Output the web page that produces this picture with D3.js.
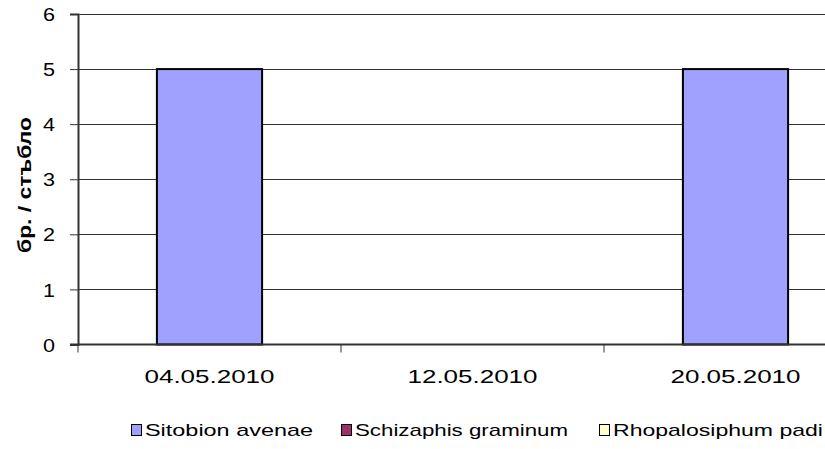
<!DOCTYPE html>
<html>
<head>
<meta charset="utf-8">
<script src="https://cdn.jsdelivr.net/npm/d3@7"></script>
<style>
  body { margin: 0; background: #fff; }
  svg { display: block; font-family: "Liberation Sans", Arial, sans-serif; }
</style>
</head>
<body>
<div id="chart"></div>
<script>
// Chart data
const dates = ["04.05.2010", "12.05.2010", "20.05.2010"];
const seriesNames = ["Sitobion avenae", "Schizaphis graminum", "Rhopalosiphum padi"];
const seriesColors = ["#a0a0ff", "#993366", "#ffffcc"];
const sitobion = [5, 0, 5];
const schizaphis = [0, 0, 0];
const rhopalosiphum = [0, 0, 0];
const yTicks = [0, 1, 2, 3, 4, 5, 6];

const width = 825;
const height = 449;
const plot = { left: 78, top: 14, bottom: 344.5, right: 867 };

const svg = d3.select('#chart')
    .append('svg')
    .attr('width', width)
    .attr('height', height);

// Scales (stacked columns, 150% gap width)
const xScale = d3.scaleBand()
    .domain(dates)
    .range([plot.left, plot.right])
    .paddingInner(0.6)
    .paddingOuter(0.3);

const yScale = d3.scaleLinear()
    .domain([0, 6])
    .range([plot.bottom, plot.top]);

// Gridlines
svg.append('g')
    .selectAll('line')
    .data(yTicks.filter(d => d > 0))
    .enter()
    .append('line')
    .attr('x1', plot.left)
    .attr('x2', width)
    .attr('y1', d => Math.round(yScale(d)) + 0.5)
    .attr('y2', d => Math.round(yScale(d)) + 0.5)
    .style('stroke', '#333')
    .style('stroke-width', 1);

// Stack the series
const table = dates.map((d, i) => ({
    date: d,
    s0: sitobion[i],
    s1: schizaphis[i],
    s2: rhopalosiphum[i]
}));
const stacked = d3.stack().keys(['s0', 's1', 's2'])(table);

stacked.forEach((layer, k) => {
    svg.append('g')
        .selectAll('rect')
        .data(layer.filter(d => d[1] - d[0] > 0))
        .enter()
        .append('rect')
        .attr('x', d => xScale(d.data.date))
        .attr('y', d => yScale(d[1]))
        .attr('width', xScale.bandwidth())
        .attr('height', d => yScale(d[0]) - yScale(d[1]))
        .style('fill', seriesColors[k])
        .style('stroke', '#000')
        .style('stroke-width', 2);
});

// Y axis
const yAxis = svg.append('g')
    .attr('transform', `translate(${plot.left},0)`)
    .call(d3.axisLeft(yScale).tickValues(yTicks).tickSize(8).tickFormat(d3.format('d')));
yAxis.select('.domain').style('stroke', '#333').style('stroke-width', 2);
yAxis.selectAll('.tick line').style('stroke', '#333');
yAxis.selectAll('.tick text')
    .attr('x', -23)
    .attr('dy', '0.35em')
    .attr('font-size', 19)
    .attr('textLength', 12)
    .attr('lengthAdjust', 'spacingAndGlyphs')
    .style('fill', '#000');

// X axis
const xAxis = svg.append('g')
    .attr('transform', `translate(0,${plot.bottom})`);
xAxis.append('line')
    .attr('x1', plot.left - 8)
    .attr('x2', width)
    .style('stroke', '#333')
    .style('stroke-width', 2);
xAxis.selectAll('.cat-tick')
    .data(d3.range(dates.length + 1))
    .enter()
    .append('line')
    .attr('class', 'cat-tick')
    .attr('x1', i => plot.left + i * xScale.step())
    .attr('x2', i => plot.left + i * xScale.step())
    .attr('y1', 0)
    .attr('y2', 8)
    .style('stroke', '#333');
xAxis.selectAll('.cat-label')
    .data(dates)
    .enter()
    .append('text')
    .attr('class', 'cat-label')
    .attr('x', d => xScale(d) + xScale.bandwidth() / 2)
    .attr('y', 38)
    .attr('text-anchor', 'middle')
    .attr('font-size', 19)
    .attr('textLength', 130)
    .attr('lengthAdjust', 'spacingAndGlyphs')
    .text(d => d);

// Y axis title
svg.append('text')
    .attr('transform', 'translate(31,185) rotate(-90)')
    .attr('text-anchor', 'middle')
    .attr('font-size', 19)
    .attr('font-weight', 'bold')
    .attr('textLength', 136)
    .attr('lengthAdjust', 'spacingAndGlyphs')
    .text('бр. / стъбло');

// Legend
const legendX = [131, 341, 599];
const legendW = [168, 213, 210];
const legend = svg.append('g')
    .selectAll('g')
    .data(seriesNames)
    .enter()
    .append('g')
    .attr('transform', (d, i) => `translate(${legendX[i]},424)`);
legend.append('rect')
    .attr('x', 0.5)
    .attr('y', 0.5)
    .attr('width', 10)
    .attr('height', 11)
    .style('fill', (d, i) => seriesColors[i])
    .style('stroke', '#000')
    .style('stroke-width', 1);
legend.append('text')
    .attr('x', 14)
    .attr('y', 12)
    .attr('font-size', 17)
    .attr('textLength', (d, i) => legendW[i])
    .attr('lengthAdjust', 'spacingAndGlyphs')
    .text(d => d);
</script>
</body>
</html>
